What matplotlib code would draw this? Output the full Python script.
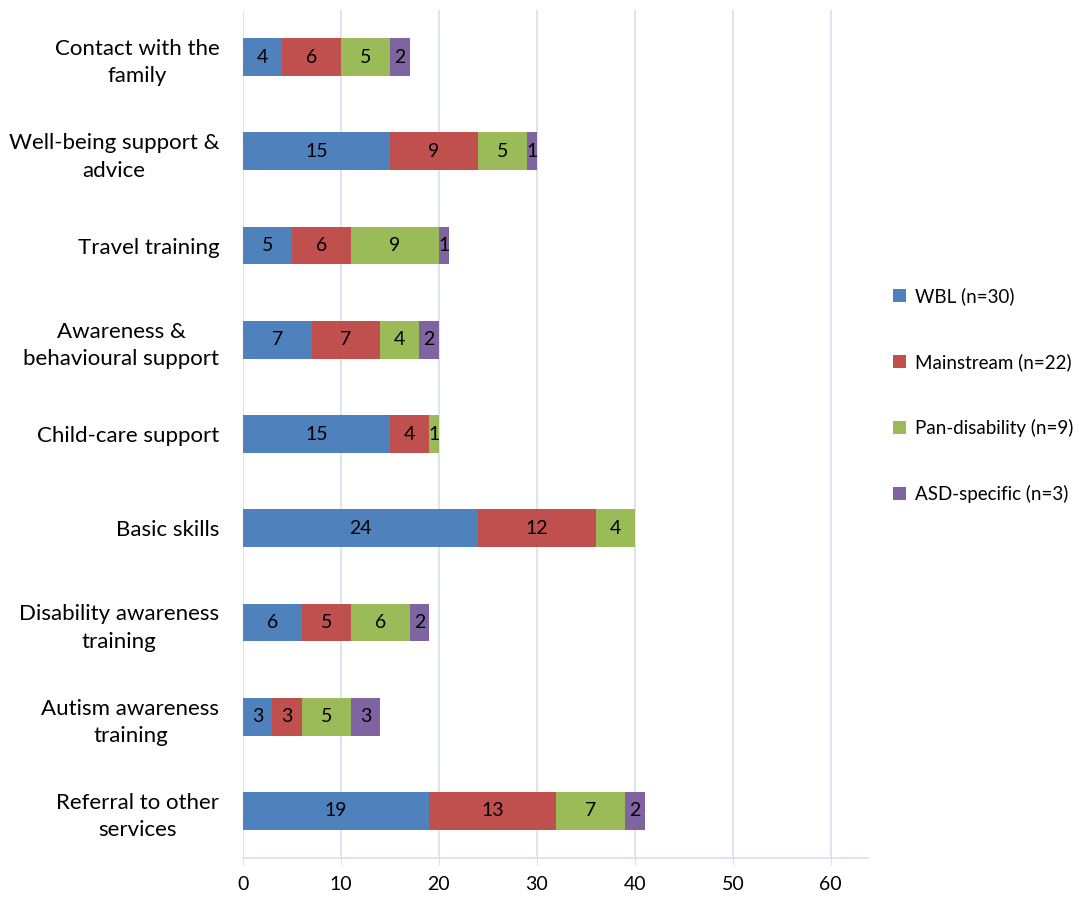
import matplotlib
matplotlib.use("Agg")
import matplotlib.pyplot as plt
import numpy as np

plt.rcParams['font.family'] = ['Lato', 'DejaVu Sans']

categories = ["Contact with the\nfamily", "Well-being support &\nadvice", "Travel training",
              "Awareness &\nbehavioural support", "Child-care support", "Basic skills",
              "Disability awareness\ntraining", "Autism awareness\ntraining",
              "Referral to other\nservices"]
series_names = ["WBL (n=30)", "Mainstream (n=22)", "Pan-disability (n=9)", "ASD-specific (n=3)"]
wbl = [4, 15, 5, 7, 15, 24, 6, 3, 19]
mainstream = [6, 9, 6, 7, 4, 12, 5, 3, 13]
pan = [5, 5, 9, 4, 1, 4, 6, 5, 7]
asd = [2, 1, 1, 2, 0, 0, 2, 3, 2]
colors = ["#4F81BD", "#C0504D", "#9BBB59", "#8064A2"]
xticks = [0, 10, 20, 30, 40, 50, 60]

fig = plt.figure(figsize=(10.8, 8.97), dpi=100)
ax = fig.add_axes([243/1080, 1-858/897, (868-243)/1080, (858-10)/897])

y = np.arange(len(categories))
left = np.zeros(len(categories))
for name, vals, c in zip(series_names, [wbl, mainstream, pan, asd], colors):
    vals = np.array(vals, dtype=float)
    bars = ax.barh(y, vals, left=left, height=0.4, color=c, label=name, zorder=3)
    for b, v in zip(bars, vals):
        if v > 0:
            ax.text(b.get_x() + b.get_width()/2, b.get_y() + b.get_height()/2, f"{int(v)}",
                    ha='center', va='center', fontsize=14, color='black', zorder=4)
    left += vals

ax.set_ylim(len(categories) - 0.5, -0.5)
ax.set_xlim(0, 63.8)
ax.set_xticks(xticks)
ax.set_xticklabels([str(t) for t in xticks], fontsize=14)
ax.set_yticks(y)
ax.set_yticklabels(categories, fontsize=16, ha='right', multialignment='center', linespacing=1.45)
ax.tick_params(axis='y', length=0, pad=17)
ax.tick_params(axis='x', length=5, color='#D9E3F0', pad=8)
ax.grid(axis='x', color='#D9E3F0', linewidth=1.3, zorder=0)
for s in ['top', 'right', 'left']:
    ax.spines[s].set_visible(False)
ax.spines['bottom'].set_color('#D9E3F0')
ax.spines['bottom'].set_linewidth(1.3)

leg = fig.legend(loc='center left', bbox_to_anchor=(876/1080, 1-395/897), frameon=False,
                 fontsize=13.5, handlelength=0.7, handleheight=0.7, labelspacing=2.55,
                 handletextpad=0.5)

fig.savefig("out.png", dpi=100)
